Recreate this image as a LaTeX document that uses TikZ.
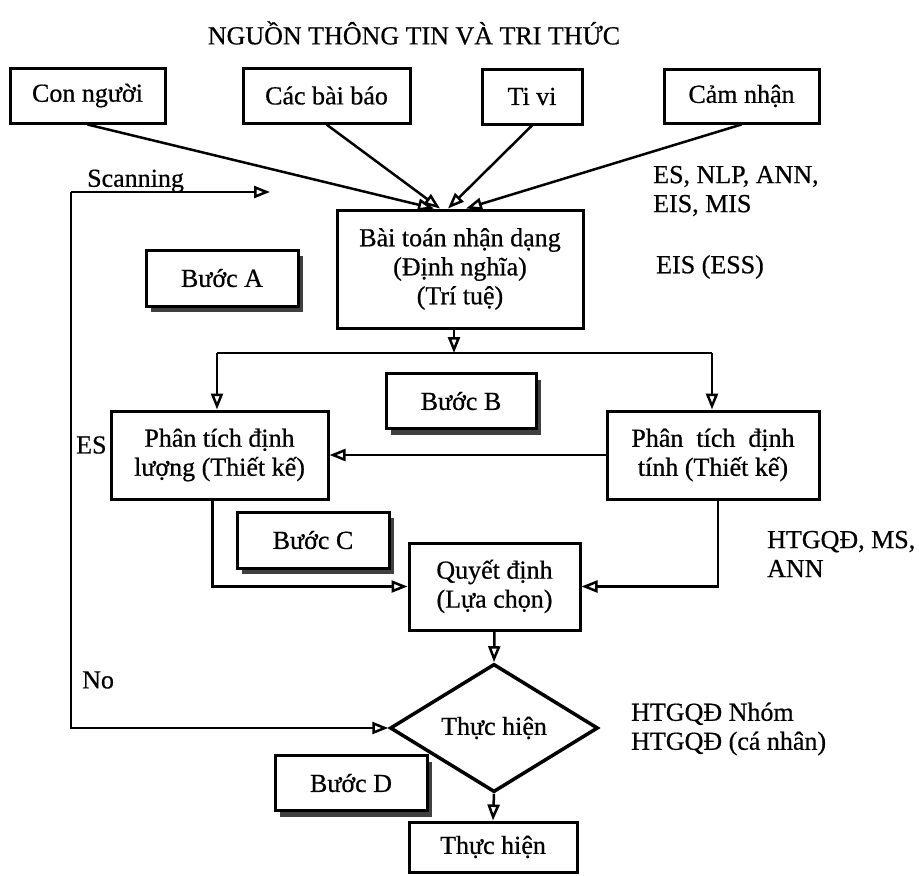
\documentclass[tikz,border=0pt]{standalone}
\usepackage{fontspec}
\setmainfont{Liberation Serif}[FakeBold=0.6]
\usetikzlibrary{shapes.geometric,arrows.meta,shadows,calc}
\begin{document}
\begin{tikzpicture}[x=1pt,y=-1pt,
  every node/.style={font=\fontsize{26}{29}\selectfont},
  box/.style={draw, line width=3pt, rectangle, inner sep=0pt, align=center, fill=white},
  stepbox/.style={box, drop shadow={shadow xshift=5pt, shadow yshift=-6pt, opacity=1, fill=black!75}},
  arr/.style={line width=2.5pt, -{Triangle[open,length=16pt,width=12pt]}},
  ln/.style={line width=2.5pt},
  lbl/.style={anchor=west, align=left, inner sep=0pt}]
\useasboundingbox (0,0) rectangle (919,876);

\node[font=\fontsize{26}{29}\selectfont] (title) at (414,33) {NGUỒN THÔNG TIN VÀ TRI THỨC};

\node[box, minimum width=155pt, minimum height=55pt] (cn) at (87.5,95.5) {Con người};
\node[box, minimum width=167pt, minimum height=55pt] (bb) at (326.5,95.5) {Các bài báo};
\node[box, minimum width=100pt, minimum height=55pt] (tv) at (532,96.5) {Ti vi};
\node[box, minimum width=155pt, minimum height=54pt] (cm) at (741.5,96) {Cảm nhận};

\node[box, minimum width=246pt, minimum height=118pt] (bt) at (460,269) {Bài toán nhận dạng\\(Định nghĩa)\\(Trí tuệ)};
\node[stepbox, minimum width=152pt, minimum height=56pt] (ba) at (222,278) {Bước A};
\node[stepbox, minimum width=150pt, minimum height=55pt] (bbb) at (461,401) {Bước B};

\node[box, minimum width=217pt, minimum height=88pt] (L) at (219.5,455) {Phân tích định\\lượng (Thiết kế)};
\node[box, minimum width=212pt, minimum height=88pt] (R) at (713,455) {Phân\ \ tích\ \ định\\tính (Thiết kế)};

\node[stepbox, minimum width=152pt, minimum height=56pt] (bc) at (313,540) {Bước C};
\node[box, minimum width=171pt, minimum height=87pt] (Q) at (494.5,586.5) {Quyết định\\(Lựa chọn)};

\node[draw, diamond, line width=3.5pt, minimum width=208pt, minimum height=75pt, inner sep=0pt, fill=white] (D) at (494,728) {Thực hiện};
\node[stepbox, minimum width=152pt, minimum height=55pt] (bd) at (351,783) {Bước D};
\node[box, minimum width=168pt, minimum height=50pt] (F) at (493,847) {Thực hiện};

% labels
\node[lbl] (scan) at (87,181) {Scanning};
\node[lbl] (no) at (82,680) {No};
\node[lbl] (es) at (76,445) {ES};
\node[lbl] (r1) at (653,191) {ES, NLP, ANN,\\EIS, MIS};
\node[lbl] (r2) at (656,267) {EIS (ESS)};
\node[lbl] (r3) at (767,554) {HTGQĐ, MS,\\ANN};
\node[lbl] (r4) at (631,729) {HTGQĐ Nhóm\\HTGQĐ (cá nhân)};

% converging arrows
\draw[arr] (cn.south) -- ($(bt.north)+(-26,0)$);
\draw[arr] (bb.south) -- ($(bt.north)+(-20,0)$);
\draw[arr] (tv.south) -- ($(bt.north)+(-12,0)$);
\draw[arr] (cm.south) -- ($(bt.north)+(6,0)$);

% split
\coordinate (sp) at (454,353);
\coordinate (spl) at (217,353);
\coordinate (spr) at (712,353);
\draw[arr] ($(bt.south)+(-6,0)$) -- (sp);
\draw[ln] (spl) -- (spr);
\draw[arr] (spl) -- (spl |- L.north);
\draw[arr] (spr) -- (spr |- R.north);

\draw[arr] (R.west) -- (L.east);
\draw[arr] ([xshift=-7pt]L.south) |- (Q.west);
\draw[arr] ([xshift=5pt]R.south) |- (Q.east);
\draw[arr] (Q.south) -- (D.north);
\draw[arr] (D.south) -- (F.north);

% scanning loop
\coordinate (c1) at (71,192);
\coordinate (se) at (270,192);
\draw[arr] (c1) -- (se);
\draw[arr] (c1) |- (D.west);
\end{tikzpicture}
\end{document}
